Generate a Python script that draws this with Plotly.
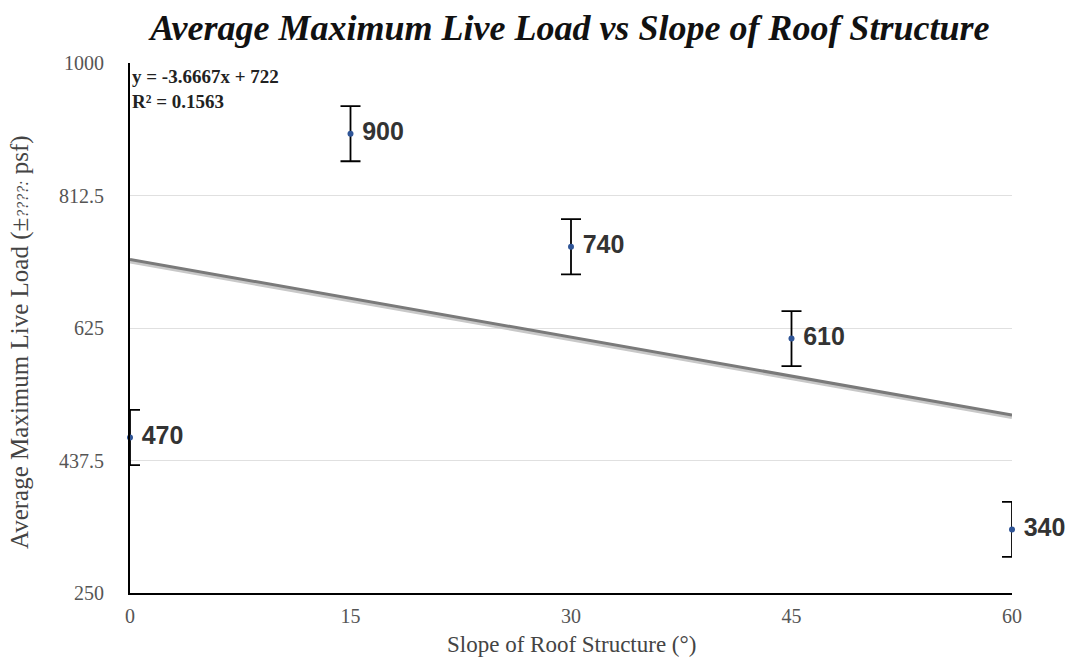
import numpy as np
import plotly.graph_objects as go

slopes = [0, 15, 30, 45, 60]
loads = [470, 900, 740, 610, 340]
errors = [39, 39, 39, 39, 39]
y_ticks = [250, 437.5, 625, 812.5, 1000]
y_tick_labels = ["250", "437.5", "625", "812.5", "1000"]
x_ticks = [0, 15, 30, 45, 60]

coef = np.polyfit(slopes, loads, 1)
fit_x = np.array([0, 60])
fit_y = np.polyval(coef, fit_x)
pred = np.polyval(coef, slopes)
ss_res = np.sum((np.array(loads) - pred) ** 2)
ss_tot = np.sum((np.array(loads) - np.mean(loads)) ** 2)
r2 = 1 - ss_res / ss_tot

fig = go.Figure()

# trendline shadow + line
fig.add_trace(go.Scatter(x=fit_x, y=fit_y - 3, mode="lines",
                         line=dict(color="#c8c8c8", width=4),
                         hoverinfo="skip", showlegend=False))
fig.add_trace(go.Scatter(x=fit_x, y=fit_y, mode="lines",
                         line=dict(color="#7a7a7a", width=3),
                         hoverinfo="skip", showlegend=False))

fig.add_trace(go.Scatter(
    x=slopes, y=loads, mode="markers+text",
    marker=dict(color="#2f5597", size=6),
    error_y=dict(type="data", array=errors, visible=True,
                 color="black", thickness=1.8, width=10),
    text=[f"\u00a0<b>{v}</b>" for v in loads], textposition="middle right",
    textfont=dict(family="Liberation Sans", size=25, color="#333333"),
    cliponaxis=False, showlegend=False))

fig.add_annotation(
    x=0, y=1, xref="paper", yref="paper", xanchor="left", yanchor="top",
    xshift=0, yshift=-1, showarrow=False, align="left",
    text=f"<b>y = {coef[0]:.4f}x + {coef[1]:.0f}<br>R² = {r2:.4f}</b>",
    font=dict(family="Liberation Serif", size=19, color="#222222"))

# axis titles
fig.add_annotation(
    x=0.5, y=0, xref="paper", yref="paper", xanchor="center", yanchor="middle",
    yshift=-51, showarrow=False,
    text="Slope of Roof Structure (°)",
    font=dict(family="Liberation Serif", size=23, color="#444444"))
fig.add_annotation(
    x=0, y=(593 - 342) / 530, xref="paper", yref="paper",
    xanchor="center", yanchor="middle", xshift=-110, textangle=-90,
    showarrow=False,
    text="Average Maximum Live Load (±<i><span style='font-size:16px'>????:</span></i> psf)",
    font=dict(family="Liberation Serif", size=25, color="#444444"))

fig.update_layout(
    width=1069, height=659,
    margin=dict(l=130, r=57, t=63, b=66),
    paper_bgcolor="white", plot_bgcolor="white",
    title=dict(text="<b><i>Average Maximum Live Load vs Slope of Roof Structure</i></b>",
               x=0.533, xanchor="center", y=0.959, yanchor="middle",
               font=dict(family="Liberation Serif", size=36, color="#111111")),
    xaxis=dict(range=[0, 60], tickvals=x_ticks, showgrid=False, zeroline=False,
               showline=True, linecolor="black", linewidth=2, automargin=False,
               ticklabelstandoff=4,
               tickfont=dict(family="Liberation Serif", size=20, color="#555555")),
    yaxis=dict(range=[250, 1000], tickvals=y_ticks, ticktext=y_tick_labels,
               showgrid=True, gridcolor="#e0e0e0", gridwidth=1, zeroline=False,
               showline=True, linecolor="black", linewidth=2, automargin=False,
               ticklabelstandoff=20,
               tickfont=dict(family="Liberation Serif", size=20, color="#555555")),
)

fig.write_html("out.html", config={"displayModeBar": False},
               post_script="document.body.style.margin='0';")
